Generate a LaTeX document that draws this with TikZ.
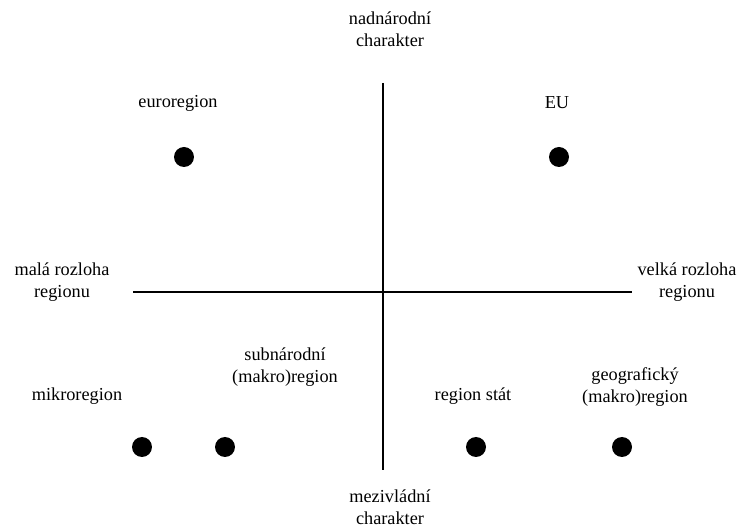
\documentclass[tikz,border=0pt]{standalone}
\usepackage{fontspec}
\setmainfont{Liberation Serif}
\usepackage{tikz}
\usetikzlibrary{positioning}

\begin{document}
\begin{tikzpicture}[
    x=0.02cm, y=-0.02cm,
    axis/.style={draw=black,line width=0.6pt},
    dot/.style={circle,fill=black,inner sep=0pt,minimum size=0.4cm},
    lbl/.style={align=center,font=\fontsize{10.4}{12.5}\selectfont,inner sep=1pt}
  ]
    \useasboundingbox (0,0) rectangle (751,526);

    % axes
    \coordinate (top) at (383,83);
    \coordinate (bottom) at (383,470);
    \coordinate (left) at (133,292);
    \coordinate (right) at (632,292);
    \draw[axis] (top)--(bottom);
    \draw[axis] (left)--(right);

    \node[lbl] (supra) at (390,29) {nadnárodní\\charakter};
    \node[lbl] (inter) at (390,507) {mezivládní\\charakter};
    \node[lbl] (small) at (62,282) {malá rozloha\\regionu};
    \node[lbl] (large) at (687,282) {velká rozloha\\regionu};

    % regions
    \node[dot] (euroDot) at (184,157) {};
    \node[lbl] (euro) at (178,103) {euroregion};
    \node[dot] (euDot) at (559,157) {};
    \node[lbl] (eu) at (557,103) {EU};

    \node[dot] (microDot) at (142,447) {};
    \node[lbl] (micro) at (77,396) {mikroregion};
    \node[dot] (subDot) at (225,447) {};
    \node[lbl] (sub) at (285,367) {subnárodní\\(makro)region};
    \node[dot] (stateDot) at (476,447) {};
    \node[lbl] (state) at (473,396) {region stát};
    \node[dot] (geoDot) at (622,447) {};
    \node[lbl] (geo) at (635,387) {geografický\\(makro)region};
  \end{tikzpicture}
\end{document}
